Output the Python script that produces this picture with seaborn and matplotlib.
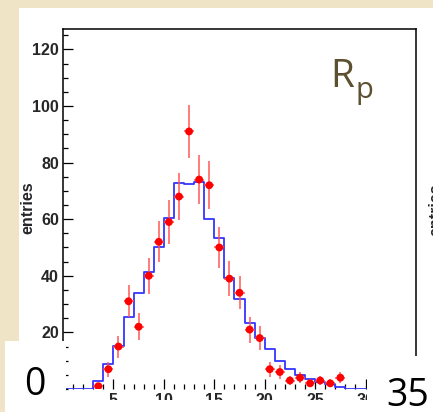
import matplotlib
matplotlib.use("Agg")
import matplotlib.pyplot as plt
from matplotlib.patches import Rectangle
import seaborn as sns
import numpy as np

# ---- data ----
data_x = [3.5, 4.5, 5.5, 6.5, 7.5, 8.5, 9.5, 10.5, 11.5, 12.5, 13.5, 14.5, 15.5,
          16.5, 17.5, 18.5, 19.5, 20.5, 21.5, 22.5, 23.5, 24.5, 25.5, 26.5, 27.5]
data_y = [1, 7, 15, 31, 22, 40, 52, 59, 68, 91, 74, 72, 50,
          39, 34, 21, 18, 7, 6, 3, 4, 2, 3, 2, 4]
data_err = [1.0, 2.6, 3.9, 5.6, 4.7, 6.3, 7.2, 7.7, 8.2, 9.5, 8.6, 8.5, 7.1,
            6.2, 5.8, 4.6, 4.2, 2.6, 2.4, 1.7, 2.0, 1.4, 1.7, 1.4, 2.0]

mc_centers = [0.5, 1.5, 2.5, 3.5, 4.5, 5.5, 6.5, 7.5, 8.5, 9.5, 10.5, 11.5, 12.5,
              13.5, 14.5, 15.5, 16.5, 17.5, 18.5, 19.5, 20.5, 21.5, 22.5, 23.5,
              24.5, 25.5, 26.5, 27.5, 28.5, 29.5]
mc_values = [0, 0, 0, 2.8, 8.7, 15.3, 25.3, 33.8, 41.2, 50.3, 60.3, 72.7, 72.3,
             73.0, 60.0, 53.5, 39.1, 31.8, 23.2, 18.1, 14.0, 10.0, 7.0, 4.9,
             3.4, 2.4, 1.8, 0.8, 0, 0]
mc_edges = list(range(0, 31))

y_ticks = [20, 40, 60, 80, 100, 120]
x_ticks = [5, 10, 15, 20, 25, 30]

W, H = 433, 412
PARCH = "#efe5c6"

sns.set_style("white")
plt.rcParams["font.family"] = ["Liberation Sans", "DejaVu Sans"]
plt.rcParams["font.weight"] = "bold"

fig = plt.figure(figsize=(W / 100, H / 100), dpi=100)
fig.patch.set_facecolor(PARCH)


def rect(x0, y0, x1, y1, z, color="white"):
    r = Rectangle((x0 / W, 1 - y1 / H), (x1 - x0) / W, (y1 - y0) / H,
                  transform=fig.transFigure, facecolor=color, edgecolor="none",
                  zorder=z)
    fig.add_artist(r)


# white slide panel
rect(19, 8, W, H, -1)

ax = fig.add_axes([63 / W, 1 - 389 / H, (416 - 63) / W, (389 - 29) / H])
ax.set_facecolor("white")

sns.histplot(x=mc_centers, weights=mc_values, bins=mc_edges, element="step",
             fill=False, color="#3535ff", linewidth=1.3, ax=ax, zorder=2)
ax.errorbar(data_x, data_y, yerr=data_err, xerr=0.5, fmt="none",
            ecolor="#ff4f4f", alpha=0.75, elinewidth=1.4, zorder=3)
sns.scatterplot(x=data_x, y=data_y, color="red", s=32, edgecolor="none",
                ax=ax, zorder=4)

ax.set_xlim(0, 35)
ax.set_ylim(0, 127.2)
ax.set_xlabel("")
ax.set_ylabel("")

for s in ["left", "top", "right"]:
    ax.spines[s].set_visible(True)
    ax.spines[s].set_color("black")
    ax.spines[s].set_linewidth(1.1)
ax.spines["bottom"].set_visible(False)

ax.set_yticks(y_ticks)
ax.set_yticks(np.arange(0, 127, 5), minor=True)
ax.set_xticks(x_ticks)
ax.set_xticks(np.arange(0, 31, 1), minor=True)
ax.set_yticklabels([str(v) for v in y_ticks], fontweight="bold", fontsize=11.5)
ax.set_xticklabels([str(v) for v in x_ticks], fontweight="bold", fontsize=11.5)
ax.tick_params(axis="both", which="major", direction="in", length=7, width=0.9,
               color="black", pad=3)
ax.tick_params(axis="both", which="minor", direction="in", length=3.5,
               width=0.9, color="black")
ax.tick_params(axis="x", which="both", bottom=True, top=False)
ax.tick_params(axis="y", which="both", left=True, right=False)

# y label
fig.text(28 / W, 1 - 208 / H, "entries", rotation=90, ha="center", va="center",
         fontsize=11.5, fontweight="bold")
# cut-off neighbouring panel label
fig.text(436 / W, 1 - 210 / H, "entries", rotation=90, ha="center",
         va="center", fontsize=11.5, fontweight="bold", zorder=1)

# slide overlays
rect(5, 341, 66, H, 5)
rect(367, 356, W, H, 5)
rect(66, 400, 367, H, 5)

fig.text(342 / W, 1 - 87 / H, "R", fontsize=28, color="#5c5030",
         family="Open Sans", fontweight="normal", ha="center", va="baseline",
         zorder=6)
fig.text(364 / W, 1 - 98 / H, "p", fontsize=21, color="#5c5030",
         family="Open Sans", fontweight="normal", ha="center", va="baseline",
         zorder=6)
fig.text(35 / W, 1 - 395 / H, "0", fontsize=27, color="black",
         family="Open Sans", fontweight="normal", ha="center", va="baseline",
         zorder=6)
fig.text(408 / W, 1 - 406 / H, "35", fontsize=27, color="black",
         family="Open Sans", fontweight="normal", ha="center", va="baseline",
         zorder=6)

fig.savefig("out.png", dpi=100, facecolor=fig.get_facecolor())
